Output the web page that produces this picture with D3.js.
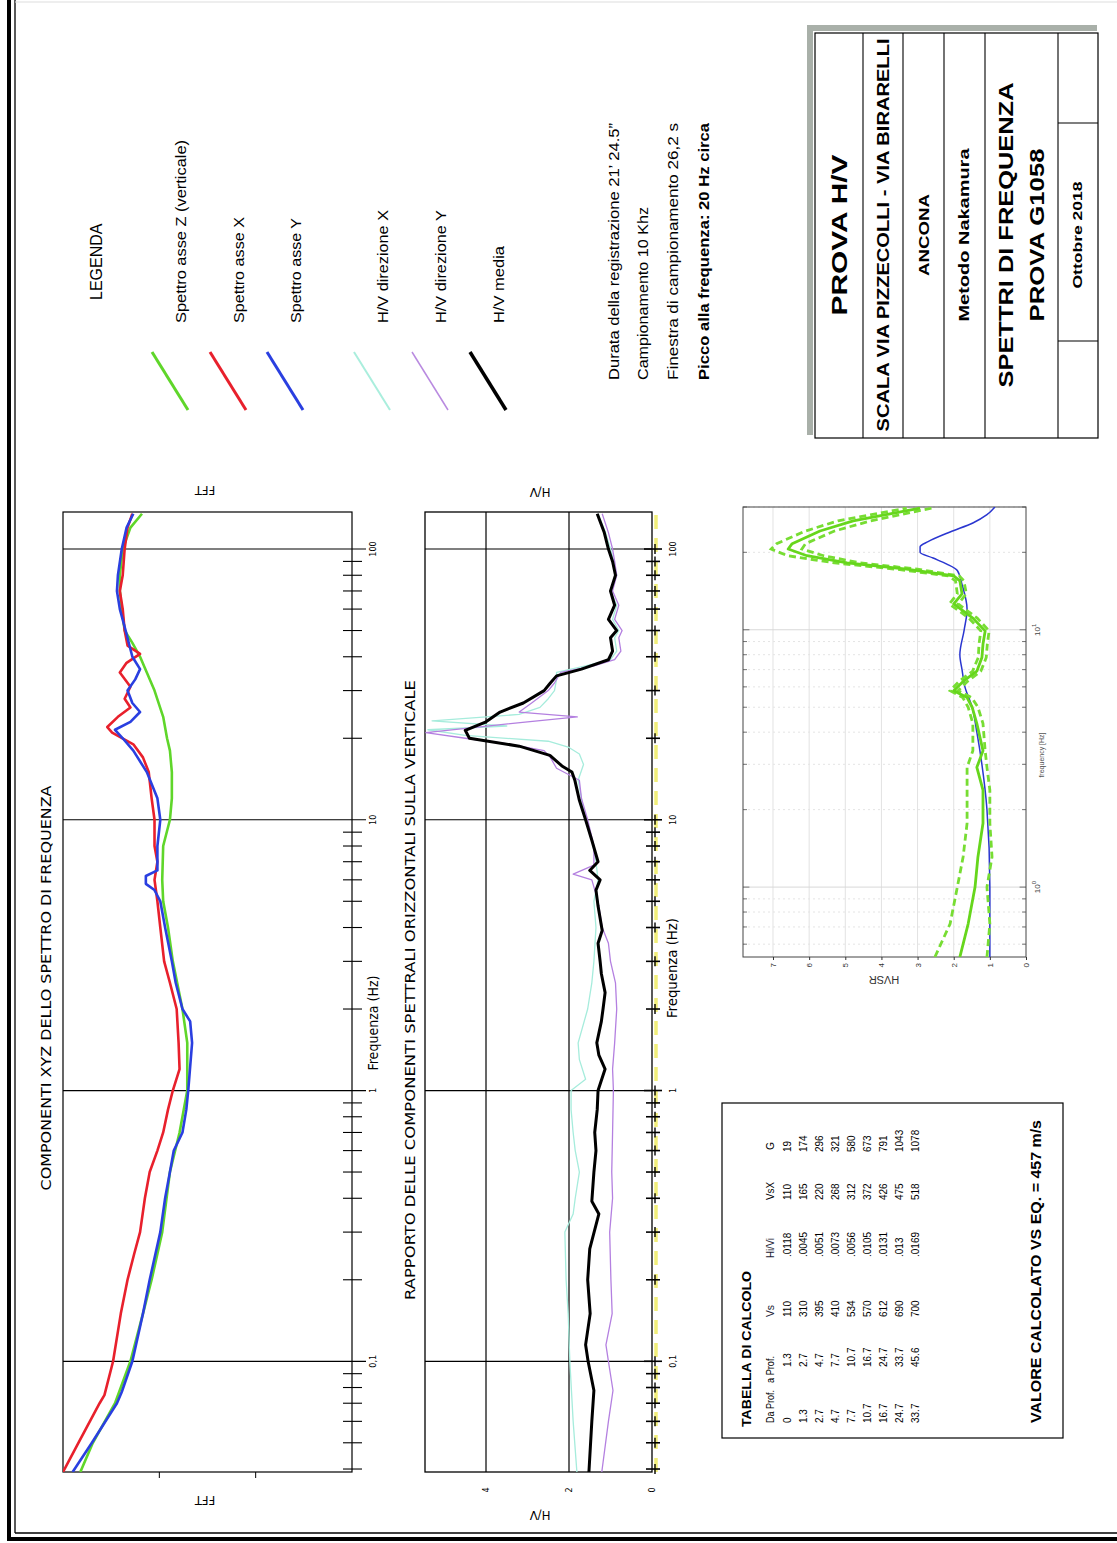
<!DOCTYPE html>
<html><head><meta charset="utf-8">
<script src="https://cdn.jsdelivr.net/npm/d3@7"></script>
<style>body{margin:0;background:#fff}svg{display:block}</style>
</head><body>
<script>
// ---------------- DATA ----------------
const freqDomain = [0.039, 137];
const decadeTicks = [0.1, 1, 10, 100];
const decadeLabels = ['0,1', '1', '10', '100'];
const fftDomain = [0, 3];
const hvDomain = [0, 5.47];
const hvTicks = [0, 2, 4];
const hvsrFreqDomain = [0.535, 30];
const hvsrValDomain = [0, 7.83];
const hvsrDecades = [1, 10];

// FFT spectra [frequency Hz, log amplitude]
const spettroZ = [[0.039,2.82],[0.05,2.69],[0.07,2.46],[0.1,2.30],[0.15,2.17],[0.2,2.08],[0.3,1.97],[0.5,1.89],[0.7,1.79],[1.0,1.71],[1.5,1.71],[2.0,1.76],[3.0,1.86],[4.0,1.91],[5.0,1.96],[6.0,1.97],[8.0,1.96],[10,1.89],[12,1.87],[15,1.87],[18,1.89],[20,1.92],[24,1.96],[30,2.05],[35,2.13],[40,2.20],[45,2.28],[50,2.36],[60,2.39],[70,2.41],[80,2.41],[100,2.38],[120,2.30],[135,2.18]];
const spettroX = [[0.039,3.00],[0.05,2.84],[0.07,2.62],[0.075,2.57],[0.1,2.48],[0.15,2.40],[0.2,2.33],[0.25,2.26],[0.3,2.20],[0.4,2.15],[0.5,2.10],[0.6,2.02],[0.7,1.96],[0.85,1.91],[1.0,1.86],[1.2,1.79],[1.5,1.80],[2.0,1.82],[2.5,1.89],[3.0,1.95],[4.0,1.99],[5.0,2.02],[6.0,2.05],[7.0,2.02],[8.0,2.05],[10,2.05],[12,2.08],[15,2.11],[17,2.17],[19,2.27],[21,2.49],[22,2.54],[24,2.43],[26,2.30],[28,2.36],[31,2.30],[35,2.41],[38,2.34],[41,2.20],[44,2.33],[50,2.36],[60,2.38],[70,2.41],[80,2.38],[100,2.36],[120,2.33],[135,2.28]];
const spettroY = [[0.039,2.90],[0.05,2.70],[0.07,2.44],[0.077,2.39],[0.1,2.28],[0.15,2.17],[0.2,2.10],[0.3,1.99],[0.4,1.94],[0.5,1.89],[0.6,1.85],[0.7,1.76],[0.85,1.72],[1.0,1.70],[1.5,1.66],[1.8,1.68],[2.0,1.76],[2.5,1.83],[3.0,1.87],[4.0,1.94],[5.0,1.99],[5.5,2.05],[5.8,2.14],[6.2,2.14],[6.5,2.02],[8.0,2.02],[10,1.99],[12,2.02],[15,2.13],[18,2.27],[20,2.38],[21.5,2.46],[23,2.30],[25,2.20],[27,2.28],[30,2.33],[33,2.25],[36,2.20],[40,2.28],[50,2.35],[60,2.41],[70,2.44],[80,2.43],[100,2.39],[120,2.34],[135,2.27]];

// H/V ratios [frequency Hz, H/V]
const hvMedia = [[0.039,1.52],[0.06,1.45],[0.078,1.40],[0.1,1.54],[0.115,1.60],[0.15,1.49],[0.2,1.55],[0.26,1.50],[0.35,1.28],[0.39,1.45],[0.5,1.40],[0.6,1.35],[0.7,1.38],[0.85,1.32],[1.0,1.30],[1.2,1.13],[1.35,1.28],[1.5,1.33],[1.8,1.22],[2.0,1.18],[2.3,1.13],[2.7,1.22],[3.0,1.25],[3.5,1.30],[3.9,1.20],[4.8,1.30],[5.5,1.35],[6.0,1.25],[6.5,1.50],[7.0,1.30],[8.4,1.45],[10,1.60],[11.8,1.75],[14,1.86],[15,1.93],[15.8,2.17],[17.3,2.46],[18.7,3.2],[20,4.4],[21.4,4.5],[23,4.0],[25,3.66],[27,3.1],[30,2.6],[32,2.45],[34,2.3],[36,1.7],[39,1.05],[42,0.95],[47,1.0],[50,0.85],[55,1.05],[62,0.9],[70,1.0],[80,0.88],[90,0.95],[100,1.05],[115,1.15],[135,1.32]];
const hvDirX = [[0.039,1.81],[0.06,1.90],[0.1,1.98],[0.15,2.02],[0.2,2.07],[0.3,2.10],[0.35,1.90],[0.4,1.85],[0.5,1.75],[0.6,1.85],[0.7,1.9],[0.85,1.95],[1.0,1.95],[1.1,1.6],[1.3,1.75],[1.5,1.78],[2.0,1.55],[2.5,1.45],[3.0,1.4],[4.0,1.35],[5.0,1.4],[6.0,1.3],[7.0,1.35],[8.5,1.45],[10,1.6],[12,1.7],[14,1.78],[16,1.65],[17.5,1.75],[18.5,2.0],[19.5,2.5],[20.5,4.5],[21.5,5.4],[22.2,3.5],[23.2,5.3],[24.5,3.2],[26,2.7],[28,2.5],[30,2.35],[33,2.3],[35,2.3],[37,1.6],[39,1.0],[42,0.85],[47,0.9],[50,0.8],[55,0.95],[62,0.85],[70,1.0],[80,0.85],[90,0.92],[100,1.0],[115,1.12],[135,1.3]];
const hvDirY = [[0.039,1.21],[0.06,1.05],[0.078,0.94],[0.1,1.05],[0.115,1.11],[0.15,0.96],[0.2,0.99],[0.3,1.02],[0.4,0.95],[0.5,0.97],[0.7,0.95],[1.0,0.93],[1.2,0.95],[1.5,0.9],[2.0,0.85],[2.5,0.88],[3.0,1.0],[3.5,1.05],[4.0,1.2],[5.0,1.3],[6.0,1.45],[6.3,1.9],[6.8,1.4],[8.0,1.4],[10,1.55],[12,1.7],[14,1.75],[15.5,2.3],[17,2.45],[18,2.6],[19,3.4],[20,4.5],[21,5.45],[22,4.2],[23,3.0],[24,1.8],[25,3.2],[27,2.9],[30,2.5],[32,2.35],[35,2.2],[37,1.4],[39,0.9],[42,0.75],[47,0.8],[50,0.72],[55,0.9],[62,0.8],[70,0.95],[80,0.85],[90,0.9],[100,0.95],[115,1.05],[135,1.2]];

// HVSR [frequency Hz, HVSR]
const hvsrMean = [[0.535,1.83],[0.72,1.6],[1.0,1.41],[1.31,1.33],[1.77,1.19],[2.38,1.19],[2.92,1.36],[3.39,1.19],[4.32,1.36],[5.0,1.49],[5.45,1.63],[5.8,2.0],[6.3,1.74],[6.9,1.36],[7.8,1.22],[8.8,1.19],[9.9,1.13],[11.1,1.47],[12.6,2.0],[13.8,1.77],[15.5,1.83],[16.2,2.0],[17.2,3.3],[18.2,4.95],[19.4,6.06],[20.6,6.58],[21.6,6.47],[24.2,5.7],[26.5,4.78],[29.7,2.93]];
const hvsrUpper = [[0.535,2.52],[0.72,2.1],[1.0,1.9],[1.31,1.74],[1.77,1.63],[2.38,1.63],[2.92,1.63],[3.39,1.47],[4.32,1.47],[5.0,1.6],[5.45,1.75],[5.8,2.1],[6.3,1.85],[6.9,1.48],[7.8,1.32],[8.8,1.3],[9.9,1.25],[11.1,1.58],[12.6,2.12],[13.8,1.9],[15.5,1.95],[16.2,2.15],[17.2,3.6],[18.2,5.3],[19.4,6.6],[20.6,7.05],[21.6,6.9],[24.2,6.1],[26.5,5.2],[29.7,3.3]];
const hvsrLower = [[0.535,1.08],[0.72,1.0],[1.0,1.08],[1.31,0.94],[1.77,1.0],[2.38,1.0],[2.92,1.08],[3.39,1.13],[4.32,1.19],[5.0,1.33],[5.45,1.5],[5.8,1.88],[6.3,1.62],[6.9,1.25],[7.8,1.1],[8.8,1.07],[9.9,1.02],[11.1,1.35],[12.6,1.88],[13.8,1.65],[15.5,1.72],[16.2,1.85],[17.2,3.0],[18.2,4.6],[19.4,5.6],[20.6,6.2],[21.6,6.1],[24.2,5.3],[26.5,4.3],[29.7,2.6]];
const hvsrTeorico = [[0.535,1.0],[1,1.0],[2,1.08],[3,1.22],[4,1.36],[5,1.49],[6,1.69],[7,1.77],[8,1.83],[10,1.71],[12,1.63],[15,1.77],[17,1.9],[18,2.19],[19,2.57],[20,2.93],[21,2.93],[22,2.71],[24,2.1],[26,1.47],[28,1.08],[30,0.86]];

// legend
const legendLabels = ['Spettro asse Z (verticale)','Spettro asse X','Spettro asse Y','H/V direzione X','H/V direzione Y','H/V media'];
const legendColors = ['#5fd62a','#e8202c','#2a3fe0','#aaeedd','#b98ae0','#000'];
const legendWidths = [3,3,3,2,1.5,3.5];
const infoLines = ['Durata della registrazione 21\u2019 24.5\u201d','Campionamento 10 Khz','Finestra di campionamento 26,2 s','Picco alla frequenza: 20 Hz circa'];

// table
const tabHeader = ['Da Prof.','a Prof.','Vs','Hi/Vi','VsX','G'];
const daProf = ['0','1.3','2.7','4.7','7.7','10.7','16.7','24.7','33.7'];
const aProf = ['1.3','2.7','4.7','7.7','10.7','16.7','24.7','33.7','45.6'];
const vsCol = ['110','310','395','410','534','570','612','690','700'];
const hiviCol = ['.0118','.0045','.0051','.0073','.0056','.0105','.0131','.013','.0169'];
const vsxCol = ['110','165','220','268','312','372','426','475','518'];
const gCol = ['19','174','296','321','580','673','791','1043','1078'];
const vsEq = 'VALORE CALCOLATO VS EQ. =  457 m/s';

// title block
const titleLines = ['PROVA H/V','SCALA VIA PIZZECOLLI - VIA BIRARELLI','ANCONA','Metodo Nakamura','SPETTRI DI FREQUENZA','PROVA  G1058','Ottobre 2018'];

// ---------------- DRAW ----------------
const W = 1117, H = 1543;
const SANS = '"Liberation Sans", Arial, sans-serif';
const NARROW = '"Liberation Sans Narrow", "Arial Narrow", "DejaVu Sans Condensed", sans-serif';
const svg = d3.select('body').append('svg').attr('width', W).attr('height', H);
svg.append('rect').attr('width', W).attr('height', H).attr('fill', '#fff');

// page border (screen coords)
svg.append('line').attr('x1',9).attr('y1',0).attr('x2',9).attr('y2',1541).attr('stroke','#000').attr('stroke-width',4);
svg.append('line').attr('x1',15).attr('y1',0).attr('x2',15).attr('y2',1533).attr('stroke','#000').attr('stroke-width',1.3);
svg.append('line').attr('x1',7).attr('y1',1539).attr('x2',W).attr('y2',1539).attr('stroke','#000').attr('stroke-width',4);
svg.append('line').attr('x1',15).attr('y1',1533).attr('x2',W).attr('y2',1533).attr('stroke','#000').attr('stroke-width',1.3);
svg.append('line').attr('x1',15).attr('y1',2).attr('x2',W).attr('y2',2).attr('stroke','#ddd').attr('stroke-width',1);

// page group rotated (landscape sheet)
const P = svg.append('g').attr('transform', `translate(0,${H}) rotate(-90)`);
const defs = svg.append('defs');
function clip(id, x0, y0, x1, y1) {
  defs.append('clipPath').attr('id', id).append('rect').attr('x', x0).attr('y', y0).attr('width', x1 - x0).attr('height', y1 - y0);
  return `url(#${id})`;
}
function text(g, x, y, s, o = {}) {
  const t = g.append('text').attr('x', x).attr('y', y).text(s)
    .attr('font-family', o.font || SANS).attr('font-size', o.size || 12)
    .attr('font-weight', o.weight || 'normal').attr('fill', o.fill || '#000')
    .attr('text-anchor', o.anchor || 'start').attr('dominant-baseline', o.base || 'central');
  if (o.len) t.attr('textLength', o.len).attr('lengthAdjust', 'spacingAndGlyphs');
  if (o.rot) t.attr('transform', `rotate(${o.rot},${x},${y})`);
  return t;
}
const isDecade = t => Math.abs(Math.log10(t) - Math.round(Math.log10(t))) < 1e-6;

// ===== Plot 1: FFT =====
const fx = d3.scaleLog().domain(freqDomain).range([71, 1031]);
const fy = d3.scaleLinear().domain(fftDomain).range([352, 63]);
const g1 = P.append('g');
fx.ticks().forEach(t => {
  const dec = isDecade(t);
  g1.append('line').attr('x1', fx(t)).attr('x2', fx(t)).attr('y1', dec ? 63 : 343).attr('y2', dec ? 366 : 362)
    .attr('stroke', '#000').attr('stroke-width', dec ? 1.2 : 1.1);
});
fy.ticks(3).filter(v => v > 0 && v < 3).forEach(v => {
  g1.append('line').attr('x1', 65).attr('x2', 71).attr('y1', fy(v)).attr('y2', fy(v)).attr('stroke', '#000');
});
g1.append('rect').attr('x', 71).attr('y', 63).attr('width', 960).attr('height', 289).attr('fill', 'none').attr('stroke', '#000').attr('stroke-width', 1.2);
decadeTicks.forEach((t, i) => text(g1, fx(t), 373, decadeLabels[i], {font: NARROW, size: 9, anchor: 'middle'}));
const c1 = clip('c1', 71, 63, 1031, 352);
const lf = d3.line().x(d => fx(d[0])).y(d => fy(d[1]));
[[spettroZ, legendColors[0]], [spettroX, legendColors[1]], [spettroY, legendColors[2]]].forEach(([d, c]) => {
  g1.append('path').datum(d).attr('d', lf).attr('fill', 'none').attr('stroke', c).attr('stroke-width', 2.6)
    .attr('stroke-linejoin', 'round').attr('clip-path', c1);
});
text(g1, 555, 46, 'COMPONENTI XYZ DELLO SPETTRO DI FREQUENZA', {font: NARROW, size: 14, anchor: 'middle', len: 405});
text(g1, 520, 373, 'Frequenza (Hz)', {font: NARROW, size: 13.5, anchor: 'middle', len: 95});
text(g1, 43, 205, 'FFT', {font: NARROW, size: 13, anchor: 'middle', rot: -90});
text(g1, 1053, 205, 'FFT', {font: NARROW, size: 13, anchor: 'middle', rot: -90});

// ===== Plot 2: H/V =====
const hy = d3.scaleLinear().domain(hvDomain).range([652, 425]);
const g2 = P.append('g');
g2.append('line').attr('x1', 71).attr('x2', 1031).attr('y1', 656).attr('y2', 656).attr('stroke', '#f1ee7a').attr('stroke-width', 3.5).attr('stroke-dasharray', '14,9');
hvTicks.filter(v => v > 0).forEach(v => {
  g2.append('line').attr('x1', 71).attr('x2', 1031).attr('y1', hy(v)).attr('y2', hy(v)).attr('stroke', '#000').attr('stroke-width', 1.2);
});
fx.ticks().forEach(t => {
  const dec = isDecade(t);
  if (dec) g2.append('line').attr('x1', fx(t)).attr('x2', fx(t)).attr('y1', 425).attr('y2', 652).attr('stroke', '#000').attr('stroke-width', 1.2);
  g2.append('line').attr('x1', fx(t)).attr('x2', fx(t)).attr('y1', dec ? 644 : 646).attr('y2', dec ? 662 : 660).attr('stroke', '#000').attr('stroke-width', 1.6);
  g2.append('line').attr('x1', fx(t) - 5).attr('x2', fx(t) + 5).attr('y1', 655).attr('y2', 655).attr('stroke', '#000').attr('stroke-width', 1.4);
});
g2.append('rect').attr('x', 71).attr('y', 425).attr('width', 960).attr('height', 227).attr('fill', 'none').attr('stroke', '#000').attr('stroke-width', 1.3);
hvTicks.forEach(v => text(g2, 53, hy(v), String(v), {font: NARROW, size: 9, anchor: 'middle'}));
decadeTicks.forEach((t, i) => text(g2, fx(t), 673, decadeLabels[i], {font: NARROW, size: 9, anchor: 'middle'}));
const c2 = clip('c2', 71, 425, 1031, 652);
const lh = d3.line().x(d => fx(d[0])).y(d => hy(d[1]));
[[hvDirX, '#a6ecdc', 1.3], [hvDirY, '#b480e0', 1.3], [hvMedia, '#000', 3]].forEach(([d, c, w]) => {
  g2.append('path').datum(d).attr('d', lh).attr('fill', 'none').attr('stroke', c).attr('stroke-width', w)
    .attr('stroke-linejoin', 'round').attr('clip-path', c2);
});
text(g2, 553, 410, 'RAPPORTO DELLE COMPONENTI SPETTRALI ORIZZONTALI SULLA VERTICALE', {font: NARROW, size: 14, anchor: 'middle', len: 620});
text(g2, 575, 672, 'Frequenza (Hz)', {font: NARROW, size: 13.5, anchor: 'middle', len: 100});
text(g2, 28, 540, 'H/V', {font: NARROW, size: 13, anchor: 'middle', rot: -90});
text(g2, 1051, 540, 'H/V', {font: NARROW, size: 13, anchor: 'middle', rot: -90});

// ===== Plot 3: HVSR =====
const sx = d3.scaleLog().domain(hvsrFreqDomain).range([586, 1036]);
const sy = d3.scaleLinear().domain(hvsrValDomain).range([1026, 743]);
const g3 = P.append('g');
sy.ticks(8).filter(v => v > 0).forEach(v => {
  g3.append('line').attr('x1', 586).attr('x2', 1036).attr('y1', sy(v)).attr('y2', sy(v)).attr('stroke', '#e2e2e2').attr('stroke-width', 1);
});
sx.ticks().forEach(t => {
  const dec = isDecade(t);
  g3.append('line').attr('x1', sx(t)).attr('x2', sx(t)).attr('y1', 743).attr('y2', 1026)
    .attr('stroke', dec ? '#d8d8d8' : '#e4e4e4').attr('stroke-width', 1).attr('stroke-dasharray', dec ? null : '2,3');
  [[743, 747], [1026, 1022]].forEach(([a, b]) => g3.append('line').attr('x1', sx(t)).attr('x2', sx(t)).attr('y1', a).attr('y2', dec ? b + (b - a) * 0.6 : b).attr('stroke', '#555').attr('stroke-width', 0.8));
});
g3.append('rect').attr('x', 586).attr('y', 743).attr('width', 450).attr('height', 283).attr('fill', 'none').attr('stroke', '#444').attr('stroke-width', 1);
const ax3 = g3.append('g').attr('transform', 'translate(586,0)').call(d3.axisLeft(sy).ticks(8).tickSize(3).tickPadding(3));
ax3.select('.domain').remove();
ax3.selectAll('text').attr('font-size', 8).attr('font-family', SANS).attr('fill', '#333');
ax3.selectAll('line').attr('stroke', '#333');
hvsrDecades.forEach(t => {
  const tt = g3.append('text').attr('x', sx(t)).attr('y', 1037).attr('font-family', SANS).attr('font-size', 8).attr('fill', '#444').attr('text-anchor', 'middle').attr('dominant-baseline', 'central');
  tt.append('tspan').text('10');
  tt.append('tspan').attr('dy', -3).attr('font-size', 6).text(String(Math.round(Math.log10(t))));
});
text(g3, 788, 1041, 'frequency [Hz]', {size: 7, anchor: 'middle', fill: '#555'});
text(g3, 563, 884, 'HVSR', {size: 11, anchor: 'middle', rot: -90, fill: '#333'});
const c3 = clip('c3', 586, 743, 1036, 1026);
const ls = d3.line().x(d => sx(d[0])).y(d => sy(d[1]));
g3.append('path').datum(hvsrTeorico).attr('d', ls.curve(d3.curveMonotoneX)).attr('fill', 'none').attr('stroke', '#2a36d0').attr('stroke-width', 1.5).attr('clip-path', c3);
ls.curve(d3.curveLinear);
[hvsrUpper, hvsrLower].forEach(d => g3.append('path').datum(d).attr('d', ls).attr('fill', 'none').attr('stroke', '#77dd33').attr('stroke-width', 2.8).attr('stroke-dasharray', '7,4').attr('clip-path', c3));
g3.append('path').datum(hvsrMean).attr('d', ls).attr('fill', 'none').attr('stroke', '#66d61c').attr('stroke-width', 2.8).attr('stroke-linejoin', 'round').attr('clip-path', c3);

// ===== Table =====
const g4 = P.append('g');
g4.append('rect').attr('x', 105).attr('y', 722).attr('width', 335).attr('height', 341).attr('fill', 'none').attr('stroke', '#000').attr('stroke-width', 1.2);
text(g4, 116, 746, 'TABELLA DI CALCOLO', {size: 13, weight: 'bold', len: 156});
const hdrX = [120, 160, 226, 285, 343, 393];
const hdrLen = [33, 27, 12, 20, 18, 8];
const colX = [120, 176, 226, 286, 343, 391];
tabHeader.forEach((h, i) => text(g4, hdrX[i], 770, h, {size: 10.5, len: hdrLen[i], fill: (i === 2 || i === 3) ? '#223' : '#000'}));
const rowY = d3.scaleLinear().domain([0, 8]).range([787, 915]);
[daProf, aProf, vsCol, hiviCol, vsxCol, gCol].forEach((col, ci) => col.forEach((v, ri) => text(g4, colX[ci], rowY(ri), v, {size: 10})));
text(g4, 120, 1035, vsEq, {size: 15, weight: 'bold', len: 303});

// ===== Legend =====
const g5 = P.append('g');
text(g5, 1243, 96, 'LEGENDA', {size: 16});
const legY = [180, 238, 295, 382, 440, 498];
const legLen = [183, 106, 105, 113, 113, 77];
legendLabels.forEach((l, i) => {
  g5.append('line').attr('x1', 1191).attr('y1', legY[i] - 28).attr('x2', 1133).attr('y2', legY[i] + 8)
    .attr('stroke', legendColors[i]).attr('stroke-width', legendWidths[i]);
  text(g5, 1220, legY[i], l, {size: 15, len: legLen[i]});
});
const infoY = [613, 642, 672, 703];
const infoLen = [257, 173, 257, 257];
infoLines.forEach((l, i) => text(g5, 1163, infoY[i], l, {size: 15, weight: i === 3 ? 'bold' : 'normal', len: infoLen[i]}));

// ===== Title block =====
const g6 = P.append('g');
g6.append('rect').attr('x', 1108).attr('y', 807).attr('width', 410).attr('height', 6).attr('fill', '#a9b0a9');
g6.append('rect').attr('x', 1512).attr('y', 807).attr('width', 6).attr('height', 290).attr('fill', '#a9b0a9');
g6.append('rect').attr('x', 1105).attr('y', 815).attr('width', 405).attr('height', 283).attr('fill', '#fff').attr('stroke', '#000').attr('stroke-width', 1.2);
[863, 903, 944, 985, 1058].forEach(y => g6.append('line').attr('x1', 1105).attr('x2', 1510).attr('y1', y).attr('y2', y).attr('stroke', '#000').attr('stroke-width', 1.1));
[1202, 1420].forEach(x => g6.append('line').attr('x1', x).attr('x2', x).attr('y1', 1058).attr('y2', 1098).attr('stroke', '#000').attr('stroke-width', 1.1));
const tbY = [839, 883, 923, 964, 1005, 1036, 1078];
const tbSize = [22, 16, 15, 14.5, 21, 21, 12.5];
const tbLen = [161, 393, 82, 173, 305, 173, 107];
titleLines.forEach((l, i) => text(g6, 1308, tbY[i], l, {size: tbSize[i], weight: 'bold', anchor: 'middle', len: tbLen[i]}));
</script>
</body></html>
